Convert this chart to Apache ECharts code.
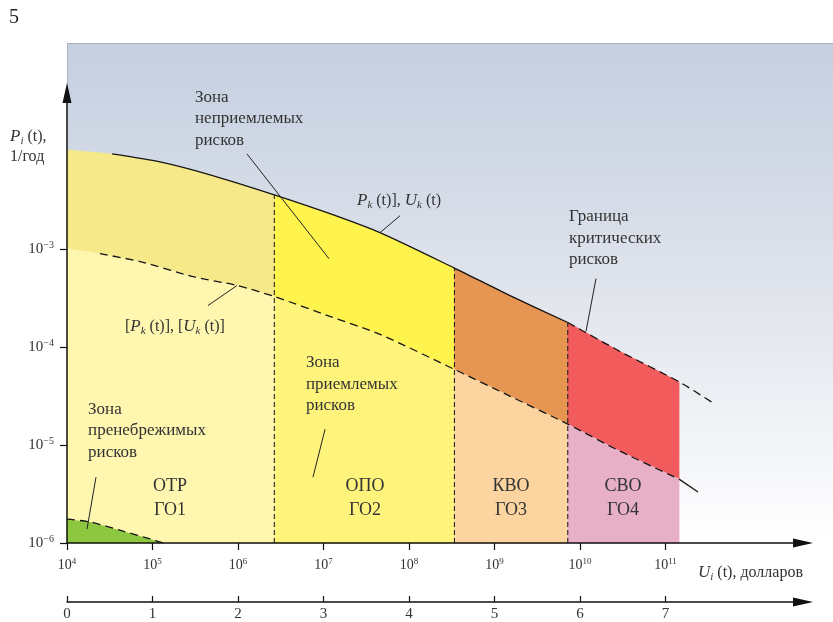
<!DOCTYPE html>
<html><head><meta charset="utf-8">
<script src="https://cdn.jsdelivr.net/npm/echarts@6/dist/echarts.min.js"></script>
<style>html,body{margin:0;padding:0;background:#fff}#c{width:833px;height:622px}</style>
</head><body><div id="c"></div>
<script>
// ---- data ----
const U_UP  = [1e4, 3.37e4, 1.22e5, 4.71e5, 2.66e6, 1.19e7, 4.58e7, 3.40e8, 1.52e9, 7.19e9, 2.94e10, 1.44e11, 3.50e11];
const P_UP  = [1.02e-2, 9.27e-3, 7.69e-3, 5.68e-3, 3.55e-3, 2.28e-3, 1.46e-3, 6.35e-4, 3.33e-4, 1.77e-4, 8.97e-5, 4.40e-5, 2.72e-5];
const U_LOW = [1e4, 2.43e4, 7.18e4, 2.98e5, 9.77e5, 2.66e6, 1.19e7, 4.58e7, 3.40e8, 1.53e9, 7.19e9, 2.94e10, 1.44e11, 2.40e11];
const P_LOW = [1.0e-3, 8.91e-4, 7.40e-4, 5.20e-4, 4.22e-4, 3.26e-4, 2.04e-4, 1.34e-4, 5.89e-5, 3.13e-5, 1.63e-5, 8.63e-6, 4.48e-6, 3.31e-6];
const U_GREEN = [1e4, 1.86e4, 4.54e4, 9.40e4, 1.33e5];
const P_GREEN = [1.75e-6, 1.64e-6, 1.32e-6, 1.10e-6, 1e-6];
const ZONE_BOUNDS = [1e4, 2.66e6, 3.40e8, 7.19e9, 1.44e11];
const ZONE_NAMES = ['ОТР\nГО1', 'ОПО\nГО2', 'КВО\nГО3', 'СВО\nГО4'];
const X_TICKS = [1e4, 1e5, 1e6, 1e7, 1e8, 1e9, 1e10, 1e11];
const Y_TICKS = [1e-6, 1e-5, 1e-4, 1e-3];
const SCALE_TICKS = [0, 1, 2, 3, 4, 5, 6, 7];
const UPPER_SOLID_FROM = 3.37e4, UPPER_SOLID_TO = 7.19e9;
const LOWER_DASHED_FROM = 2.43e4, LOWER_DASHED_TO = 1.44e11;

// ---- styles ----
const FONT = '"Liberation Serif", "DejaVu Serif", serif';
const TXT = '#333';
const TOP_COLORS = ['#f6e98a', '#fff34d', '#e69553', '#f15b5b'];
const BOT_COLORS = ['#fff6b0', '#fff47b', '#fcd4a0', '#e8b0c7'];
const GREEN = '#8dc63f';
const X_MIN = 1e4, X_MAX = Math.pow(10, 12.608);
const Y_MIN = 1e-6, Y_MAX = Math.pow(10, -1.412);
const S_MAX = 8.608;

const pairs = (U, P) => U.map((u, k) => [u, P[k]]);
const UP = pairs(U_UP, P_UP), LOW = pairs(U_LOW, P_LOW), GR = pairs(U_GREEN, P_GREEN);

function zoneItem(params, api) {
  const i = api.value(2);
  const a = ZONE_BOUNDS[i], b = ZONE_BOUNDS[i + 1];
  const up = UP.filter(p => p[0] >= a && p[0] <= b);
  const lo = LOW.filter(p => p[0] >= a && p[0] <= b);
  const top = up.concat(lo.slice().reverse()).map(p => api.coord(p));
  const bot = lo.concat([[b, Y_MIN], [a, Y_MIN]]).map(p => api.coord(p));
  return {type: 'group', children: [
    {type: 'polygon', shape: {points: top}, style: {fill: TOP_COLORS[i], stroke: TOP_COLORS[i], lineWidth: 0.6}},
    {type: 'polygon', shape: {points: bot}, style: {fill: BOT_COLORS[i], stroke: BOT_COLORS[i], lineWidth: 0.6}}
  ]};
}
function greenItem(params, api) {
  const pts = GR.concat([[X_MIN, Y_MIN]]).map(p => api.coord(p));
  return {type: 'polygon', shape: {points: pts}, style: {fill: GREEN}};
}

const lineS = (data, dashed) => ({
  type: 'line', data, symbol: 'none', silent: true, z: 5, animation: false, smooth: 0.25,
  lineStyle: {color: '#151515', width: 1.3, type: dashed ? [8, 5] : 'solid'}
});

const series = [
  {type: 'custom', renderItem: zoneItem, data: ZONE_NAMES.map((n, i) => [ZONE_BOUNDS[i], 1e-5, i]), z: 1, silent: true, animation: false},
  {type: 'custom', renderItem: greenItem, data: [[X_MIN, Y_MIN, 0]], z: 2, silent: true, animation: false},
  lineS(UP.filter(p => p[0] >= UPPER_SOLID_FROM && p[0] <= UPPER_SOLID_TO), false),
  lineS(UP.filter(p => p[0] >= UPPER_SOLID_TO), true),
  lineS(LOW.filter(p => p[0] >= LOWER_DASHED_FROM && p[0] <= LOWER_DASHED_TO), true),
  lineS(LOW.filter(p => p[0] >= LOWER_DASHED_TO), false),
  lineS(GR, true)
];
ZONE_BOUNDS.slice(1, 4).forEach(b => {
  const top = UP.find(p => p[0] === b);
  const s = lineS([[b, Y_MIN], top], true);
  s.smooth = false;
  s.lineStyle = {color: '#222', width: 1.1, type: [5, 3]};
  series.push(s);
});

const xRich = {
  b: {fontFamily: FONT, fontSize: 14, color: TXT, lineHeight: 16},
  s: {fontFamily: FONT, fontSize: 9, color: TXT, lineHeight: 9, verticalAlign: 'top'}
};
const yRich = {
  b: {fontFamily: FONT, fontSize: 15, color: TXT, lineHeight: 17},
  s: {fontFamily: FONT, fontSize: 10, color: TXT, lineHeight: 10, verticalAlign: 'top'}
};

const chart = echarts.init(document.getElementById('c'));
chart.setOption({
  animation: false,
  backgroundColor: '#fff',
  grid: {left: 67, right: 30, top: 93, bottom: 78},
  xAxis: [
    {type: 'log', logBase: 10, min: X_MIN, max: X_MAX, z: 10,
     axisLine: {show: true, lineStyle: {color: '#111', width: 1.5}, symbol: ['none', 'triangle'], symbolSize: [9, 20]},
     axisTick: {show: true, length: 7, lineStyle: {color: '#111', width: 1.2}, customValues: X_TICKS},
     axisLabel: {margin: 14, customValues: X_TICKS, rich: xRich,
       formatter: v => '{b|10}{s|' + Math.round(Math.log10(v)) + '}'},
     splitLine: {show: false}, minorTick: {show: false}},
    {type: 'value', position: 'bottom', offset: 59, min: 0, max: S_MAX, z: 10,
     axisLine: {show: true, onZero: false, lineStyle: {color: '#111', width: 1.5}, symbol: ['none', 'triangle'], symbolSize: [9, 20]},
     axisTick: {show: true, inside: true, length: 6, lineStyle: {color: '#111', width: 1.2}, customValues: SCALE_TICKS},
     axisLabel: {margin: 5, customValues: SCALE_TICKS, fontFamily: FONT, fontSize: 15, color: TXT},
     splitLine: {show: false}}
  ],
  yAxis: {type: 'log', logBase: 10, min: Y_MIN, max: Y_MAX, z: 10,
    axisLine: {show: true, lineStyle: {color: '#111', width: 1.5}, symbol: ['none', 'triangle'], symbolSize: [9, 20]},
    axisTick: {show: true, length: 7, lineStyle: {color: '#111', width: 1.2}, customValues: Y_TICKS},
    axisLabel: {margin: 13, customValues: Y_TICKS, rich: yRich,
      formatter: v => '{b|10}{s|−' + Math.round(-Math.log10(v)) + '}'},
    splitLine: {show: false}, minorTick: {show: false}},
  series
});

// ---- annotations (positions in log-exponent space) ----
const px = (ex, ey) => chart.convertToPixel({xAxisIndex: 0, yAxisIndex: 0}, [Math.pow(10, ex), Math.pow(10, ey)]);
const NOTES = [
  {text: 'Зона\nнеприемлемых\nрисков', at: [5.497, -1.346], line: [[6.105, -2.033], [7.064, -3.101]]},
  {text: 'Граница\nкритических\nрисков', at: [9.871, -2.562], line: [[10.187, -3.304], [10.070, -3.843]]},
  {text: 'Зона\nприемлемых\nрисков', at: [6.795, -4.052], line: [[7.018, -4.840], [6.877, -5.329]]},
  {text: 'Зона\nпренебрежимых\nрисков', at: [4.246, -4.525], line: [[4.339, -5.329], [4.234, -5.858]]}
];
const CURVE_NOTES = [
  {rich: '{i|P}{sub|k}{n| (t)], }{i|U}{sub|k}{n| (t)}', at: [7.392, -2.511], line: [[7.895, -2.663], [7.661, -2.836]]},
  {rich: '{n|[}{i|P}{sub|k}{n| (t)], [}{i|U}{sub|k}{n| (t)]}', at: [4.678, -3.792], line: [[5.649, -3.579], [5.988, -3.375]]}
];
const ZONE_LABEL_X = [5.205, 7.485, 9.193, 10.503], ZONE_LABEL_Y = -5.298;

const italRich = {
  i: {fontFamily: FONT, fontStyle: 'italic', fontSize: 17, fill: TXT, lineHeight: 20},
  sub: {fontFamily: FONT, fontStyle: 'italic', fontSize: 11, fill: TXT, lineHeight: 10, verticalAlign: 'bottom'},
  n: {fontFamily: FONT, fontSize: 16, fill: TXT, lineHeight: 20}
};

const g = [];
g.push({type: 'rect', z: -10, silent: true, shape: {x: 67, y: 43, width: 833 - 67, height: 500},
  style: {fill: new echarts.graphic.LinearGradient(0, 0, 0, 1, [
    {offset: 0, color: '#c4cfe0'}, {offset: 0.5, color: '#e0e4ec'}, {offset: 1, color: '#ffffff'}])}});
g.push({type: 'polyline', z: -9, silent: true, shape: {points: [[67.5, 100], [67.5, 43.5], [833, 43.5]]},
  style: {stroke: '#a4aab4', lineWidth: 0.8, fill: null}});
NOTES.forEach(n => {
  const p = px(n.at[0], n.at[1]);
  g.push({type: 'text', z: 50, x: p[0], y: p[1], style: {text: n.text, fontFamily: FONT, fontSize: 17, fill: TXT, lineHeight: 21.5, align: 'left', verticalAlign: 'top'}});
  const a = px(n.line[0][0], n.line[0][1]), b = px(n.line[1][0], n.line[1][1]);
  g.push({type: 'line', z: 50, shape: {x1: a[0], y1: a[1], x2: b[0], y2: b[1]}, style: {stroke: '#222', lineWidth: 1}});
});
CURVE_NOTES.forEach(n => {
  const p = px(n.at[0], n.at[1]);
  g.push({type: 'text', z: 50, x: p[0], y: p[1], style: {text: n.rich, rich: italRich, fill: TXT, align: 'left', verticalAlign: 'middle'}});
  const a = px(n.line[0][0], n.line[0][1]), b = px(n.line[1][0], n.line[1][1]);
  g.push({type: 'line', z: 50, shape: {x1: a[0], y1: a[1], x2: b[0], y2: b[1]}, style: {stroke: '#222', lineWidth: 1}});
});
ZONE_NAMES.forEach((name, i) => {
  const p = px(ZONE_LABEL_X[i], ZONE_LABEL_Y);
  g.push({type: 'text', z: 50, x: p[0], y: p[1], style: {text: name, fontFamily: FONT, fontSize: 18, fill: TXT, lineHeight: 24, align: 'center', verticalAlign: 'top'}});
});
// axis titles and figure number
g.push({type: 'text', z: 50, x: 10, y: 127, style: {text: '{i|P}{sub|i}{n| (t),}\n{n|1/год}', rich: italRich, fill: TXT, align: 'left', verticalAlign: 'top'}});
g.push({type: 'text', z: 50, x: 698, y: 573, style: {text: '{i|U}{sub|i}{n| (t), долларов}', rich: italRich, fill: TXT, align: 'left', verticalAlign: 'middle'}});
g.push({type: 'text', z: 50, x: 9, y: 18, style: {text: '5', fontFamily: FONT, fontSize: 20, fill: '#222', align: 'left', verticalAlign: 'middle'}});
chart.setOption({graphic: g});
</script></body></html>
